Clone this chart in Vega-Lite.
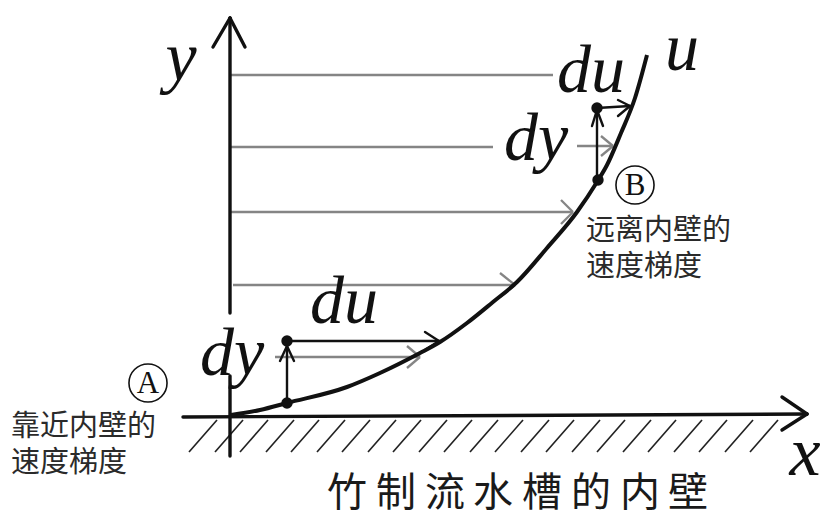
{
  "$schema": "https://vega.github.io/schema/vega-lite/v6.json",
  "autosize": {"type": "fit", "contains": "padding"},
  "width": 831,
  "height": 520,
  "padding": 0,
  "background": "white",
  "config": {"view": {"stroke": null}},
  "datasets": {
    "hatch": [
      {"u": -13, "v": -4, "u2": -41, "v2": -36},
      {"u": 13, "v": -4, "u2": -15, "v2": -36},
      {"u": 38, "v": -4, "u2": 10, "v2": -36},
      {"u": 64, "v": -4, "u2": 36, "v2": -36},
      {"u": 89, "v": -4, "u2": 61, "v2": -36},
      {"u": 115, "v": -4, "u2": 87, "v2": -36},
      {"u": 140, "v": -4, "u2": 112, "v2": -36},
      {"u": 166, "v": -4, "u2": 138, "v2": -36},
      {"u": 191, "v": -4, "u2": 163, "v2": -36},
      {"u": 217, "v": -4, "u2": 189, "v2": -36},
      {"u": 242, "v": -4, "u2": 214, "v2": -36},
      {"u": 268, "v": -4, "u2": 240, "v2": -36},
      {"u": 293, "v": -4, "u2": 265, "v2": -36},
      {"u": 319, "v": -4, "u2": 291, "v2": -36},
      {"u": 344, "v": -4, "u2": 316, "v2": -36},
      {"u": 370, "v": -4, "u2": 342, "v2": -36},
      {"u": 395, "v": -4, "u2": 367, "v2": -36},
      {"u": 421, "v": -4, "u2": 393, "v2": -36},
      {"u": 446, "v": -4, "u2": 418, "v2": -36},
      {"u": 472, "v": -4, "u2": 444, "v2": -36},
      {"u": 497, "v": -4, "u2": 469, "v2": -36},
      {"u": 523, "v": -4, "u2": 495, "v2": -36},
      {"u": 548, "v": -4, "u2": 520, "v2": -36}
    ],
    "flow": [
      {"u": 0, "v": 341, "u2": 323, "v2": 341},
      {"u": 0, "v": 269, "u2": 263, "v2": 269},
      {"u": 347, "v": 270, "u2": 383, "v2": 270},
      {"u": 383, "v": 270, "u2": 371, "v2": 280},
      {"u": 383, "v": 270, "u2": 371, "v2": 260},
      {"u": 0, "v": 204, "u2": 343, "v2": 204},
      {"u": 343, "v": 204, "u2": 331, "v2": 216},
      {"u": 343, "v": 204, "u2": 331, "v2": 192},
      {"u": 3, "v": 131, "u2": 285, "v2": 131},
      {"u": 285, "v": 131, "u2": 270, "v2": 143},
      {"u": 285, "v": 131, "u2": 270, "v2": 119},
      {"u": 45, "v": 59, "u2": 190, "v2": 59},
      {"u": 190, "v": 59, "u2": 177, "v2": 70},
      {"u": 190, "v": 59, "u2": 177, "v2": 48}
    ],
    "axes": [
      {"u": 0, "v": 103, "u2": 0, "v2": 398},
      {"u": 0, "v": -40, "u2": 0, "v2": 40},
      {"u": 0, "v": 398, "u2": -17, "v2": 369},
      {"u": 0, "v": 398, "u2": 15, "v2": 369},
      {"u": -47, "v": -1, "u2": 577, "v2": 2},
      {"u": 577, "v": 2, "u2": 552, "v2": 19},
      {"u": 577, "v": 2, "u2": 552, "v2": -14}
    ],
    "arrows": [
      {"u": 57, "v": 75, "u2": 209, "v2": 75},
      {"u": 209, "v": 75, "u2": 195, "v2": 84},
      {"u": 209, "v": 75, "u2": 195, "v2": 66},
      {"u": 57, "v": 13, "u2": 57, "v2": 70},
      {"u": 57, "v": 70, "u2": 50, "v2": 55},
      {"u": 57, "v": 70, "u2": 64, "v2": 55},
      {"u": 367, "v": 236, "u2": 367, "v2": 306},
      {"u": 367, "v": 306, "u2": 362, "v2": 290},
      {"u": 367, "v": 306, "u2": 373, "v2": 290},
      {"u": 367, "v": 308, "u2": 400, "v2": 310},
      {"u": 400, "v": 310, "u2": 388, "v2": 316},
      {"u": 400, "v": 310, "u2": 388, "v2": 300}
    ],
    "curve": [
      {"u": 1, "v": 1},
      {"u": 30, "v": 6},
      {"u": 57, "v": 13},
      {"u": 117, "v": 29},
      {"u": 150, "v": 43},
      {"u": 190, "v": 63},
      {"u": 210, "v": 74},
      {"u": 237, "v": 93},
      {"u": 263, "v": 114},
      {"u": 287, "v": 134},
      {"u": 317, "v": 168},
      {"u": 347, "v": 204},
      {"u": 367, "v": 234},
      {"u": 377, "v": 251},
      {"u": 391, "v": 283},
      {"u": 405, "v": 318},
      {"u": 417, "v": 361}
    ],
    "dots": [
      {"u": 57, "v": 13},
      {"u": 57, "v": 75},
      {"u": 367, "v": 308},
      {"u": 368, "v": 236}
    ],
    "circles": [
      {"u": -82, "v": 33, "t": "A"},
      {"u": 405, "v": 231, "t": "B"}
    ],
    "hand": [
      {"u": 361, "v": 324, "t": "du"},
      {"u": 306, "v": 256, "t": "dy"},
      {"u": 114, "v": 93, "t": "du"},
      {"u": 2, "v": 41, "t": "dy"},
      {"u": 452, "v": 346, "t": "u"}
    ],
    "axislabels": [
      {"u": -49, "v": 336, "t": "y"},
      {"u": 575, "v": -59, "t": "x"}
    ],
    "notes": [
      {"u": -219, "v": 3, "t": ["靠近内壁的", "速度梯度"]},
      {"u": 356, "v": 199, "t": ["远离内壁的", "速度梯度"]}
    ],
    "title": [
      {"u": 117, "v": -78, "t": "竹"},
      {"u": 166, "v": -78, "t": "制"},
      {"u": 215, "v": -78, "t": "流"},
      {"u": 263, "v": -78, "t": "水"},
      {"u": 312, "v": -78, "t": "槽"},
      {"u": 361, "v": -78, "t": "的"},
      {"u": 410, "v": -78, "t": "内"},
      {"u": 458, "v": -78, "t": "壁"}
    ]
  },
  "encoding": {
    "x": {"field": "u", "type": "quantitative", "scale": {"domain": [-230, 601], "nice": false, "zero": false}, "axis": null},
    "y": {"field": "v", "type": "quantitative", "scale": {"domain": [-104, 416], "nice": false, "zero": false}, "axis": null}
  },
  "layer": [
    {
      "data": {"name": "hatch"},
      "mark": {"type": "rule", "color": "#222222", "strokeWidth": 1.6},
      "encoding": {"x2": {"field": "u2"}, "y2": {"field": "v2"}}
    },
    {
      "data": {"name": "flow"},
      "mark": {"type": "rule", "color": "#858585", "strokeWidth": 2.3},
      "encoding": {"x2": {"field": "u2"}, "y2": {"field": "v2"}}
    },
    {
      "data": {"name": "axes"},
      "mark": {"type": "rule", "color": "#111111", "strokeWidth": 3.4, "strokeCap": "round"},
      "encoding": {"x2": {"field": "u2"}, "y2": {"field": "v2"}}
    },
    {
      "data": {"name": "arrows"},
      "mark": {"type": "rule", "color": "#111111", "strokeWidth": 2.4, "strokeCap": "round"},
      "encoding": {"x2": {"field": "u2"}, "y2": {"field": "v2"}}
    },
    {
      "data": {"name": "curve"},
      "mark": {"type": "line", "color": "#111111", "strokeWidth": 4, "interpolate": "monotone"},
      "encoding": {"order": {"field": "u", "type": "quantitative"}}
    },
    {
      "data": {"name": "dots"},
      "mark": {"type": "point", "shape": "circle", "filled": true, "color": "#111111", "size": 130, "opacity": 1}
    },
    {
      "data": {"name": "circles"},
      "mark": {"type": "point", "shape": "circle", "filled": false, "color": "#111111", "size": 1450, "strokeWidth": 1.6, "opacity": 1}
    },
    {
      "data": {"name": "circles"},
      "mark": {"type": "text", "font": "Liberation Serif", "fontSize": 31, "color": "#111111", "align": "center", "baseline": "middle", "dy": 1},
      "encoding": {"text": {"field": "t"}}
    },
    {
      "data": {"name": "hand"},
      "mark": {"type": "text", "font": "Liberation Serif", "fontStyle": "italic", "fontSize": 68, "color": "#111111", "align": "center", "baseline": "alphabetic"},
      "encoding": {"text": {"field": "t"}}
    },
    {
      "data": {"name": "axislabels"},
      "mark": {"type": "text", "font": "Liberation Serif", "fontStyle": "italic", "fontSize": 70, "color": "#111111", "align": "center", "baseline": "alphabetic"},
      "encoding": {"text": {"field": "t"}}
    },
    {
      "data": {"name": "notes"},
      "mark": {"type": "text", "font": "Noto Sans CJK SC", "fontSize": 29, "lineHeight": 36, "color": "#2a2a2a", "align": "left", "baseline": "top"},
      "encoding": {"text": {"field": "t"}}
    },
    {
      "data": {"name": "title"},
      "mark": {"type": "text", "font": "Noto Sans CJK SC", "fontSize": 40, "color": "#1a1a1a", "align": "center", "baseline": "middle"},
      "encoding": {"text": {"field": "t"}}
    }
  ]
}
